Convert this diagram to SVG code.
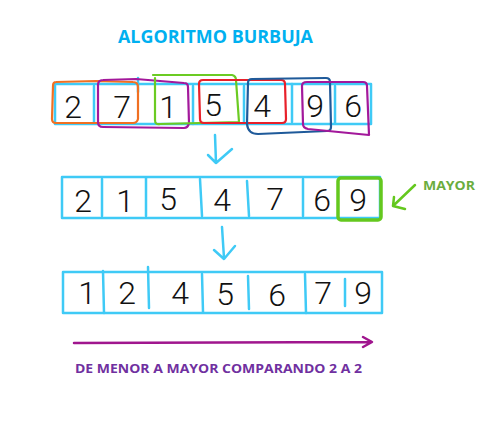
<svg xmlns="http://www.w3.org/2000/svg" width="504" height="439" viewBox="0 0 504 439">
<style>
.bl{fill:none;stroke:#3FCAF6;stroke-width:2.5;stroke-linecap:round;stroke-linejoin:round}
.dg{font-family:Roboto,"Liberation Sans","DejaVu Sans",sans-serif;font-weight:300;font-size:32px;fill:#111;text-anchor:middle}
.pair{fill:none;stroke-width:2.2;stroke-linejoin:round;stroke-linecap:round}
.ttl{font-family:"Open Sans","Liberation Sans",sans-serif;font-weight:bold}
</style>
<rect width="504" height="439" fill="#fff"/>
<text class="ttl" x="118" y="43" font-size="17.5" fill="#00B0F0" textLength="195" lengthAdjust="spacingAndGlyphs">ALGORITMO BURBUJA</text>

<g id="row1">
<rect class="bl" x="55" y="84" width="316" height="40"/>
<path class="bl" d="M94 86V123M138 78V92M193 86V124M244 86V123M292 84V122M335 86V123"/>
<g class="dg">
<text x="73" y="118">2</text><text x="122" y="118">7</text><text x="168" y="118">1</text><text x="213" y="116">5</text><text x="262" y="117">4</text><text x="315" y="117">9</text><text x="353" y="117">6</text>
</g>
<path class="pair" stroke="#F07022" d="M56 82L96 81L133 82Q138 82 138 87L138 119Q137 123 133 123L99 123L56 123Q52 123 52 119L53 86Q53 82 56 82Z"/>
<path class="pair" stroke="#A3189B" d="M103 80L136 79L184 83Q188 83 188 87L189 123Q188 128 184 128L103 127Q98 127 98 122L98 85Q98 80 103 80Z"/>
<path class="pair" stroke="#6BCB23" d="M153 75L232 75Q236 76 236 80L239 122L160 124Q155 125 155 120L155 78"/>
<path class="pair" stroke="#E8202A" d="M203 80L281 80Q285 80 285 84L286 119Q286 123 282 123L204 123Q200 123 200 119L199 84Q199 80 203 80Z"/>
<path class="pair" stroke="#1F5A9A" d="M252 79L326 78Q330 78 330 82L331 127Q331 131 327 131L258 134Q248 134 247 124L248 83Q248 79 252 79Z"/>
<path class="pair" stroke="#A3189B" d="M307 82L363 82Q367 82 367 86L369 135L308 129Q303 128 303 124L302 86Q302 82 307 82Z"/>
</g>

<g id="connectors">
<path class="bl" d="M215 135L216 163M208 155L216 163L232 149"/>
<path class="bl" d="M222 227L224 258M214 250L224 259L235 246"/>
<path fill="none" stroke="#64C81E" stroke-width="2.5" stroke-linecap="round" stroke-linejoin="round" d="M415 185L393 206M394 197L393 206L405 209"/>
<path fill="none" stroke="#A0168E" stroke-width="2.5" stroke-linecap="round" stroke-linejoin="round" d="M74 343L371 342M363 337L372 342L363 347"/>
</g>

<g id="row2">
<rect class="bl" x="62" y="177" width="318" height="41"/>
<path class="bl" d="M102 179V216M146 178V216M200 179L202 216M247 181L249 216M303 179L303 216"/>
<g class="dg">
<text x="83" y="212">2</text><text x="125" y="212">1</text><text x="168" y="210">5</text><text x="222" y="211">4</text><text x="275" y="210">7</text><text x="322" y="211">6</text><text x="358" y="211">9</text>
</g>
<rect x="338" y="178" width="43" height="42" rx="3" fill="none" stroke="#64C81E" stroke-width="3.5"/>
<text class="ttl" x="423" y="190" font-size="13" fill="#6AAD3E" textLength="52" lengthAdjust="spacingAndGlyphs">MAYOR</text>
</g>

<g id="row3">
<rect class="bl" x="63" y="272" width="319" height="41"/>
<path class="bl" d="M103 271L104 313M148 267L149 308M202 274L203 312M248 276L249 309M305 274L306 313M345 279V306"/>
<g class="dg">
<text x="87" y="304">1</text><text x="127" y="304">2</text><text x="180" y="304">4</text><text x="225" y="305">5</text><text x="277" y="306">6</text><text x="323" y="304">7</text><text x="363" y="304">9</text>
</g>
</g>

<text class="ttl" x="75" y="373" font-size="12.5" fill="#7030A0" textLength="287" lengthAdjust="spacingAndGlyphs">DE MENOR A MAYOR COMPARANDO 2 A 2</text>
</svg>
